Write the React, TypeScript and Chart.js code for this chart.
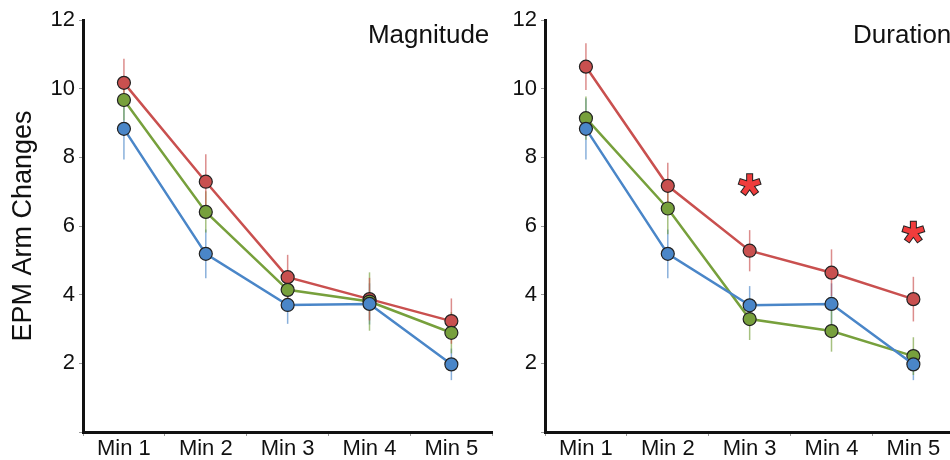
import React, { useEffect, useRef } from 'react';
import { Chart, registerables } from 'chart.js';
Chart.register(...registerables);

const categories = ['Min 1', 'Min 2', 'Min 3', 'Min 4', 'Min 5'];
const yMin = 0;
const yMax = 12;
const yStep = 2;

// Magnitude panel
const magRed = [10.17, 7.29, 4.51, 3.87, 3.23];
const magGreen = [9.67, 6.41, 4.14, 3.8, 2.89];
const magBlue = [8.83, 5.19, 3.7, 3.73, 1.97];
const magRedErr = [0.7, 0.8, 0.65, 0.62, 0.66];
const magGreenErr = [0.6, 0.6, 0.5, 0.85, 0.6];
const magBlueErr = [0.89, 0.71, 0.55, 0.6, 0.46];

// Duration panel
const durRed = [10.64, 7.17, 5.28, 4.64, 3.87];
const durGreen = [9.14, 6.51, 3.29, 2.94, 2.21];
const durBlue = [8.83, 5.19, 3.69, 3.73, 1.97];
const durRedErr = [0.68, 0.67, 0.6, 0.68, 0.65];
const durGreenErr = [0.63, 0.75, 0.61, 0.6, 0.55];
const durBlueErr = [0.89, 0.71, 0.56, 0.6, 0.46];

// significance markers (Duration panel)
const sigCategories = ['Min 3', 'Min 5'];
const sigValues = [7.2, 5.82];

const RED = '#c9504f';
const GREEN = '#77a03c';
const BLUE = '#4a86c8';
const FONT = "'Liberation Sans', Arial, Helvetica, sans-serif";

const errorBarsPlugin = {
  id: 'errorBars',
  beforeDatasetsDraw(chart: any) {
    const { ctx, scales } = chart;
    const x = scales.x;
    const y = scales.y;
    chart.data.datasets.forEach((ds: any) => {
      if (!ds.errors) return;
      ctx.save();
      ctx.strokeStyle = ds.errorColor;
      ctx.lineWidth = 1.5;
      ds.data.forEach((v: number, j: number) => {
        const e = ds.errors[j];
        const px = x.getPixelForValue(j);
        ctx.beginPath();
        ctx.moveTo(px, y.getPixelForValue(v - e));
        ctx.lineTo(px, y.getPixelForValue(v + e));
        ctx.stroke();
      });
      ctx.restore();
    });
  },
};

const sigPlugin = {
  id: 'sigMarks',
  afterDatasetsDraw(chart: any) {
    const opts = chart.options.plugins.sigMarks;
    if (!opts || !opts.labels) return;
    const { ctx, scales } = chart;
    const x = scales.x;
    const y = scales.y;
    opts.labels.forEach((lab: string, i: number) => {
      const idx = categories.indexOf(lab);
      const cx = x.getPixelForValue(idx);
      const cy = y.getPixelForValue(opts.values[i]);
      const angles = [-90, -18, 54, 126, 198].map((a) => (a * Math.PI) / 180);
      const arms = (len: number) => {
        ctx.beginPath();
        angles.forEach((a) => {
          ctx.moveTo(cx, cy);
          ctx.lineTo(cx + Math.cos(a) * len, cy + Math.sin(a) * len);
        });
        ctx.stroke();
      };
      ctx.save();
      ctx.lineCap = 'butt';
      ctx.strokeStyle = '#222';
      ctx.lineWidth = 7;
      arms(11.5);
      ctx.strokeStyle = '#f03c3c';
      ctx.lineWidth = 5;
      arms(10.5);
      ctx.restore();
    });
  },
};

const titlePlugin = {
  id: 'panelTitle',
  afterDraw(chart: any) {
    const opts = chart.options.plugins.panelTitle;
    if (!opts || !opts.text) return;
    const { ctx, chartArea } = chart;
    ctx.save();
    ctx.font = `26px ${FONT}`;
    ctx.fillStyle = '#111';
    ctx.textAlign = 'right';
    ctx.textBaseline = 'middle';
    ctx.fillText(opts.text, chartArea.right - 3, 36);
    ctx.restore();
  },
};

function makeConfig(
  red: number[], green: number[], blue: number[],
  redErr: number[], greenErr: number[], blueErr: number[],
  title: string, yTitle: string | null, sig: any
): any {
  const mk = (data: number[], errs: number[], color: string, errColor: string) => ({
    data,
    errors: errs,
    errorColor: errColor,
    borderColor: color,
    backgroundColor: color,
    borderWidth: 2.5,
    pointRadius: 6.5,
    pointBorderWidth: 1.2,
    pointBorderColor: '#222',
    pointBackgroundColor: color,
    tension: 0,
    fill: false,
  });
  return {
    type: 'line',
    data: {
      labels: categories,
      datasets: [
        mk(blue, blueErr, BLUE, 'rgba(74,134,200,0.65)'),
        mk(green, greenErr, GREEN, 'rgba(119,160,60,0.65)'),
        mk(red, redErr, RED, 'rgba(201,80,79,0.65)'),
      ],
    },
    options: {
      animation: false,
      responsive: false,
      maintainAspectRatio: false,
      layout: { padding: { top: 20, right: 7, left: 0, bottom: 0 } },
      plugins: {
        legend: { display: false },
        tooltip: { enabled: false },
        panelTitle: { text: title },
        sigMarks: sig,
      },
      scales: {
        x: {
          type: 'category',
          offset: true,
          afterFit: (s: any) => { s.height = 28; },
          grid: {
            offset: true,
            drawOnChartArea: false,
            drawTicks: true,
            tickLength: 4,
            color: '#9a9a9a',
          },
          border: { display: true, color: '#111', width: 3 },
          ticks: {
            color: '#111',
            padding: 0,
            font: { family: FONT, size: 22 },
          },
        },
        y: {
          min: yMin,
          max: yMax,
          afterFit: (s: any) => { s.width = 83; },
          grid: {
            drawOnChartArea: false,
            drawTicks: true,
            tickLength: 4,
            color: '#9a9a9a',
          },
          border: { display: true, color: '#111', width: 3 },
          ticks: {
            stepSize: yStep,
            color: '#111',
            padding: 4,
            font: { family: FONT, size: 22 },
            callback: (v: any) => (v === 0 ? '' : String(v)),
          },
          title: {
            display: !!yTitle,
            text: yTitle || '',
            color: '#111',
            font: { family: FONT, size: 27 },
            padding: { top: 7, bottom: 0 },
          },
        },
      },
    },
    plugins: [errorBarsPlugin, sigPlugin, titlePlugin],
  };
}

function Panel(props: { config: any; left: number }) {
  const ref = useRef<HTMLCanvasElement>(null);
  useEffect(() => {
    if (!ref.current) return;
    const chart = new Chart(ref.current, props.config);
    return () => chart.destroy();
  }, []);
  return (
    <canvas
      ref={ref}
      width={500}
      height={460}
      style={{ position: 'absolute', left: props.left, top: 0, width: 500, height: 460 }}
    />
  );
}

export default function App() {
  const left = makeConfig(magRed, magGreen, magBlue, magRedErr, magGreenErr, magBlueErr,
    'Magnitude', 'EPM Arm Changes', null);
  const right = makeConfig(durRed, durGreen, durBlue, durRedErr, durGreenErr, durBlueErr,
    'Duration', null, { labels: sigCategories, values: sigValues });
  return (
    <div style={{ position: 'fixed', left: 0, top: 0, width: 950, height: 460, overflow: 'hidden', background: '#fff' }}>
      <Panel config={left} left={0} />
      <Panel config={right} left={462} />
    </div>
  );
}
